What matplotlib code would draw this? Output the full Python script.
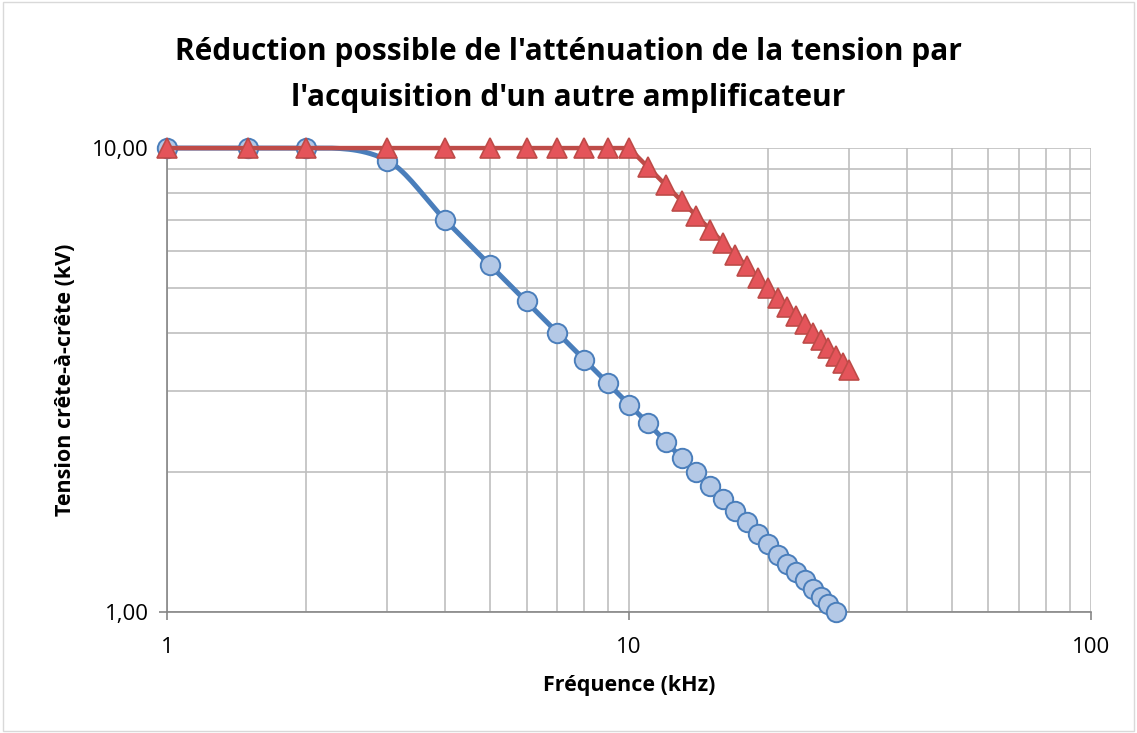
import numpy as np
import matplotlib
matplotlib.use('Agg')
import matplotlib.pyplot as plt
from matplotlib.ticker import FixedLocator, NullFormatter, FuncFormatter

freq_blue = [1, 1.5, 2, 3, 4, 5, 6, 7, 8, 9, 10, 11, 12, 13, 14, 15, 16, 17, 18, 19,
             20, 21, 22, 23, 24, 25, 26, 27, 28]
volt_blue = [10, 10, 10, 9.4, 7.0, 5.6, 4.67, 4.0, 3.5, 3.11, 2.8, 2.55, 2.33, 2.15, 2.0,
             1.87, 1.75, 1.65, 1.56, 1.47, 1.4, 1.33, 1.27, 1.22, 1.17, 1.12, 1.08, 1.04, 1.0]
freq_red = [1, 1.5, 2, 3, 4, 5, 6, 7, 8, 9, 10, 11, 12, 13, 14, 15, 16, 17, 18, 19,
            20, 21, 22, 23, 24, 25, 26, 27, 28, 29, 30]
volt_red = [10, 10, 10, 10, 10, 10, 10, 10, 10, 10, 10, 9.09, 8.33, 7.69, 7.14, 6.67,
            6.25, 5.88, 5.56, 5.26, 5.0, 4.76, 4.55, 4.35, 4.17, 4.0, 3.85, 3.70, 3.57,
            3.45, 3.33]

title = "Réduction possible de l'atténuation de la tension par\nl'acquisition d'un autre amplificateur"
xlabel = 'Fréquence (kHz)'
ylabel = 'Tension crête-à-crête (kV)'

plt.rcParams['font.family'] = ['Open Sans', 'DejaVu Sans']


def smooth_log(xs, ys, n=20):
    """Courbe lissée (Hermite, pentes centrées) en espace log, proche du lissage d'Excel."""
    lx = np.log10(xs)
    ly = np.log10(ys)
    d = np.diff(ly) / np.diff(lx)
    m = np.zeros_like(ly)
    for i in range(1, len(ly) - 1):
        if d[i - 1] * d[i] > 0:
            m[i] = (ly[i + 1] - ly[i - 1]) / (lx[i + 1] - lx[i - 1])
    m[-1] = d[-1]
    outx, outy = [], []
    t = np.linspace(0, 1, n)
    for i in range(len(lx) - 1):
        h = lx[i + 1] - lx[i]
        h00 = 2 * t**3 - 3 * t**2 + 1
        h10 = t**3 - 2 * t**2 + t
        h01 = -2 * t**3 + 3 * t**2
        h11 = t**3 - t**2
        outx.extend(lx[i] + t * h)
        outy.extend(h00 * ly[i] + h10 * h * m[i] + h01 * ly[i + 1] + h11 * h * m[i + 1])
    return 10 ** np.array(outx), 10 ** np.array(outy)


fig = plt.figure(figsize=(11.37, 7.33), dpi=100)
ax = fig.add_axes([0.1469, 0.165, 0.8126, 0.633])

sx, sy = smooth_log(freq_blue, volt_blue)
ax.plot(sx, sy, color='#4A7EBB', linewidth=3.6, solid_capstyle='round', zorder=3,
        clip_on=False)
ax.plot(freq_blue, volt_blue, linestyle='none', marker='o', markersize=14,
        markerfacecolor='#B3C8E6', markeredgecolor='#4A7EBB', markeredgewidth=1.4,
        zorder=4, clip_on=False)

ax.plot(freq_red, volt_red, color='#BE4B48', linewidth=3.2, zorder=5, clip_on=False)
ax.plot(freq_red, volt_red, linestyle='none', marker='^', markersize=14,
        markerfacecolor='#E4545A', markeredgecolor='#BE4B48', markeredgewidth=1.2,
        zorder=6, clip_on=False)

ax.set_xscale('log')
ax.set_yscale('log')
ax.set_xlim(1, 100)
ax.set_ylim(1, 10)

ax.xaxis.set_major_locator(FixedLocator([1, 10, 100]))
ax.xaxis.set_minor_locator(FixedLocator([2, 3, 4, 5, 6, 7, 8, 9, 20, 30, 40, 50, 60, 70, 80, 90]))
ax.yaxis.set_major_locator(FixedLocator([1, 10]))
ax.yaxis.set_minor_locator(FixedLocator([2, 3, 4, 5, 6, 7, 8, 9]))
ax.xaxis.set_major_formatter(FuncFormatter(lambda v, p: f'{v:g}'))
ax.yaxis.set_major_formatter(FuncFormatter(lambda v, p: f'{v:.2f}'.replace('.', ',')))
ax.xaxis.set_minor_formatter(NullFormatter())
ax.yaxis.set_minor_formatter(NullFormatter())

ax.grid(True, which='both', color='#BFBFBF', linewidth=1.2)
ax.set_axisbelow(True)
for s in ['top', 'right']:
    ax.spines[s].set_visible(False)
for s in ['left', 'bottom']:
    ax.spines[s].set_color('#868686')
    ax.spines[s].set_linewidth(1.2)
ax.tick_params(which='major', length=6, width=1.2, color='#868686',
               labelsize=16, pad=7, labelcolor='#000000')
ax.tick_params(which='minor', length=0)
ax.tick_params(axis='x', which='major', pad=12)

ax.set_xlabel(xlabel, fontsize=15.5, fontweight='bold', labelpad=12)
ax.set_ylabel(ylabel, fontsize=15.5, fontweight='bold', labelpad=12)

fig.text(0.5, 0.898, title, ha='center', va='center', fontsize=21.5,
         fontweight='bold', linespacing=1.7)

fig.patches.append(plt.Rectangle((0.003, 0.003), 0.994, 0.994, transform=fig.transFigure,
                                 fill=False, edgecolor='#D9D9D9', linewidth=1))

fig.savefig('out.png', dpi=100)
